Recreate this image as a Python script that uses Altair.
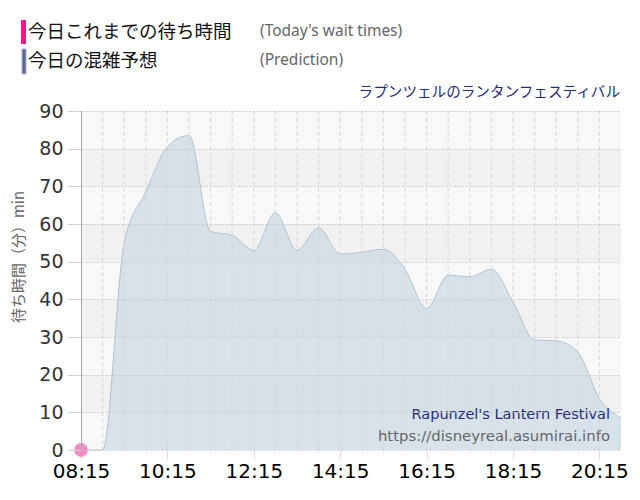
import altair as alt
import pandas as pd

# ---- data ----
pred_times = ["08:15", "08:45", "09:15", "09:45", "10:15", "10:45", "11:15", "11:45",
              "12:15", "12:45", "13:15", "13:45", "14:15", "14:45", "15:15", "15:45",
              "16:15", "16:45", "17:15", "17:45", "18:15", "18:45", "19:15", "19:45",
              "20:15", "20:45"]
pred_waits = [0, 0, 55, 68.5, 80.5, 83.5, 58, 57,
              53, 63, 53, 59, 52, 52.5, 53.3, 48,
              37.5, 46.4, 46, 48, 39.3, 29.2, 29, 26,
              13.7, 8.5]

today_times = ["08:15"]
today_waits = [0]

tick_labels = ["08:15", "10:15", "12:15", "14:15", "16:15", "18:15", "20:15"]
y_ticks = [0, 10, 20, 30, 40, 50, 60, 70, 80, 90]
grid_times = ["08:45", "09:15", "09:45", "10:15", "10:45", "11:15", "11:45", "12:15",
              "12:45", "13:15", "13:45", "14:15", "14:45", "15:15", "15:45", "16:15",
              "16:45", "17:15", "17:45", "18:15", "18:45", "19:15", "19:45", "20:15"]
band_lows = [0, 10, 20, 30, 40, 50, 60, 70, 80]
band_shade = ["a", "b", "a", "b", "a", "b", "a", "b", "a"]

title_jp = "ラプンツェルのランタンフェスティバル"
title_en = "Rapunzel's Lantern Festival"
site_url = "https://disneyreal.asumirai.info"
legend1_jp, legend1_en = "今日これまでの待ち時間", "(Today's wait times)"
legend2_jp, legend2_en = "今日の混雑予想", "(Prediction)"
y_title = "待ち時間（分）min"


def to_min(t):
    h, m = t.split(":")
    return int(h) * 60 + int(m)


pred = pd.DataFrame({"m": [to_min(t) for t in pred_times], "w": pred_waits})
today = pd.DataFrame({"m": [to_min(t) for t in today_times], "w": today_waits})
grid = pd.DataFrame({"m": [to_min(t) for t in grid_times]})
bands = pd.DataFrame({"lo": band_lows, "hi": [b + 10 for b in band_lows], "s": band_shade})

W, H = 540, 339
XDOM = [to_min("08:15"), to_min("20:45")]
xscale = alt.Scale(domain=XDOM, nice=False, zero=False)
yscale = alt.Scale(domain=[0, 90], nice=False)

label_expr = ("(floor(datum.value/60) < 10 ? '0' : '') + floor(datum.value/60) + ':' + "
              "(datum.value % 60 < 10 ? '0' : '') + (datum.value % 60)")

x_axis = alt.Axis(values=[to_min(t) for t in tick_labels], labelExpr=label_expr,
                  title=None, grid=False, domain=False, tickColor="#dddddd", tickSize=9,
                  labelFont="DejaVu Sans", labelFontSize=20, labelColor="#000000",
                  labelPadding=2, labelOverlap=False, labelBound=False, labelFlush=False)
y_axis = alt.Axis(values=y_ticks, title=None, grid=True,
                  gridColor="#c8c8c8", gridDash=[2, 2], domainColor="#a8a8a8",
                  tickColor="#d0d0d0", tickSize=14, labelFont="DejaVu Sans",
                  labelFontSize=19, labelColor="#333333", labelPadding=4, zindex=1,
                  labelOverlap=False, labelBound=False, labelFlush=False)

bg = alt.Chart(bands).mark_rect().encode(
    x=alt.value(0), x2=alt.value(W),
    y=alt.Y("lo:Q", scale=yscale, axis=y_axis), y2="hi:Q",
    color=alt.Color("s:N", scale=alt.Scale(domain=["a", "b"], range=["#f8f8f8", "#f1f1f1"]),
                    legend=None),
)

area = alt.Chart(pred).mark_area(
    interpolate="monotone", color="#c5d5e3", opacity=0.62,
    line={"color": "#b3c2cf", "strokeWidth": 1},
).encode(
    x=alt.X("m:Q", scale=xscale, axis=x_axis),
    y=alt.Y("w:Q", scale=yscale, axis=y_axis),
)

vgrid = alt.Chart(grid).mark_rule(color="#d6d6d6", strokeDash=[4, 3], strokeWidth=1).encode(
    x=alt.X("m:Q", scale=xscale, axis=x_axis), y=alt.value(0), y2=alt.value(H),
)

pt = alt.Chart(today).mark_circle(size=190, color="#f48cc8", opacity=1).encode(
    x=alt.X("m:Q", scale=xscale, axis=x_axis), y=alt.Y("w:Q", scale=yscale, axis=y_axis),
)


def txt(s, x, y, size, color, font, align="left", angle=0):
    return alt.Chart(pd.DataFrame({"t": [s]})).mark_text(
        align=align, baseline="middle", fontSize=size, color=color, font=font,
        angle=angle,
    ).encode(x=alt.value(x), y=alt.value(y), text="t:N")


def bar(x0, x1, y0, y1, fill, stroke=None):
    kw = {"color": fill}
    if stroke:
        kw.update(stroke=stroke, strokeWidth=1)
    return alt.Chart(pd.DataFrame({"t": [0]})).mark_rect(**kw).encode(
        x=alt.value(x0), x2=alt.value(x1), y=alt.value(y0), y2=alt.value(y1))


JP = "Noto Sans CJK JP"
layers = [
    bg, area, vgrid, pt,
    bar(-60, -55, -91, -67, "#f0188c"),
    bar(-59, -55, -62, -37, "#5a6898", "#aab1cc"),
    txt(legend1_jp, -53, -79, 18.5, "#111111", JP),
    txt(legend1_en, 179, -80, 15.5, "#666666", "Noto Sans"),
    txt(legend2_jp, -53, -50, 18.5, "#111111", JP),
    txt(legend2_en, 179, -51, 15.5, "#666666", "Noto Sans"),
    txt(title_jp, 539, -18, 14.6, "#262c78", JP, align="right"),
    txt(title_en, 529, 304, 14.5, "#262c78", "DejaVu Sans", align="right"),
    txt(site_url, 529, 326, 14.9, "#666666", "DejaVu Sans", align="right"),
    txt(y_title, -62, 146, 15, "#666666", JP, align="center", angle=270),
]

chart = alt.layer(*layers).properties(
    width=W, height=H,
    autosize=alt.AutoSizeParams(type="none"),
    padding={"left": 73, "top": 103, "right": 11, "bottom": 42},
).configure_view(stroke=None)

chart.save("out.html", embed_options={"renderer": "svg", "actions": False})
